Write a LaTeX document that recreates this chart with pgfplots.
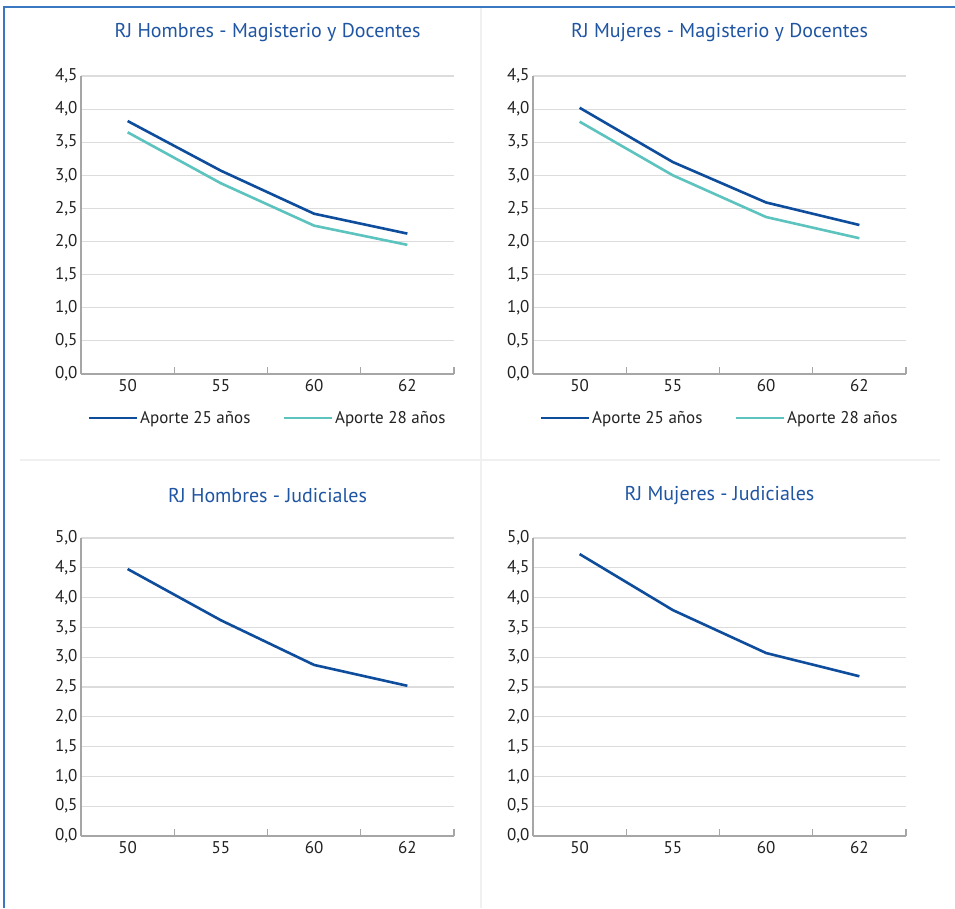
\documentclass[border=0pt]{standalone}
\usepackage{fontspec}
\setmainfont{PT Sans}
\usepackage{pgfplots}
\pgfplotsset{compat=1.18}
\definecolor{dblue}{HTML}{0E4C9C}
\definecolor{teal2}{HTML}{5CC3BE}
\definecolor{titleblue}{HTML}{1F55A3}
\definecolor{axgray}{HTML}{A6A6A6}
\definecolor{grd}{HTML}{DCDCDC}
\definecolor{framec}{HTML}{3A78C2}
\definecolor{sep}{HTML}{F0F0F0}
\definecolor{txt}{HTML}{222222}
\pgfplotsset{
 panel/.style={
  scale only axis, width=373pt, height=298pt,
  xmin=-0.5, xmax=3.5, ymin=0,
  axis lines*=left,
  axis line style={draw=axgray, line width=1.2pt},
  xtick={0,1,2,3}, xticklabels={50,55,60,62},
  xtick style={draw=none},
  extra x ticks={-0.5,0.5,1.5,2.5,3.5},
  extra x tick labels={},
  extra x tick style={xtick style={draw=axgray, line width=1.2pt}, tick align=inside, major tick length=7pt, grid=none},
  ytick style={draw=none},
  ymajorgrids, major grid style={draw=grd, line width=1.1pt},
  tick label style={font=\fontsize{17}{19}\selectfont, text=txt},
  /pgf/number format/.cd, use comma, fixed, fixed zerofill, precision=1, assume math mode=true,
  /pgfplots/.cd,
  yticklabel style={xshift=0pt},
  xticklabel style={yshift=-2pt},
  title style={font=\fontsize{20}{22}\selectfont, text=titleblue, at={(0.5,1)}, anchor=center},
  legend style={draw=none, at={(0.5,-0.148)}, anchor=center, legend columns=2,
    font=\fontsize{17}{19}\selectfont, text=txt,
    /tikz/every even column/.append style={column sep=30pt}},
  legend image code/.code={\draw[#1] (0pt,0pt) -- (48pt,0pt);},
 },
 l25/.style={color=dblue, line width=2.6pt, no markers},
 l28/.style={color=teal2, line width=2.6pt, no markers},
}
\begin{document}
\begin{tikzpicture}
\path[use as bounding box, fill=white] (0pt,0pt) rectangle (955pt,908pt);
% separators
\draw[sep, line width=2.5pt] (20pt,448pt) -- (940pt,448pt);
\draw[sep, line width=1.5pt] (481pt,0pt) -- (481pt,900pt);
% frame
\draw[framec, line width=1.6pt] (4pt,0pt) -- (4pt,901pt) -- (955pt,901pt);

\begin{axis}[panel, at={(81pt,534pt)}, anchor=south west, ymax=4.5,
  ytick={0,0.5,...,4.5}, title={RJ Hombres - Magisterio y Docentes},
  title style={yshift=37pt}]
\addplot[l25] coordinates {(0,3.82) (1,3.07) (2,2.42) (3,2.12)};
\addlegendentry{Aporte 25 años}
\addplot[l28] coordinates {(0,3.65) (1,2.88) (2,2.24) (3,1.95)};
\addlegendentry{Aporte 28 años}
\end{axis}

\begin{axis}[panel, at={(533pt,534pt)}, anchor=south west, ymax=4.5,
  ytick={0,0.5,...,4.5}, title={RJ Mujeres - Magisterio y Docentes},
  title style={yshift=37pt}]
\addplot[l25] coordinates {(0,4.02) (1,3.20) (2,2.59) (3,2.25)};
\addlegendentry{Aporte 25 años}
\addplot[l28] coordinates {(0,3.81) (1,3.00) (2,2.37) (3,2.05)};
\addlegendentry{Aporte 28 años}
\end{axis}

\begin{axis}[panel, at={(81pt,72pt)}, anchor=south west, ymax=5,
  ytick={0,0.5,...,5}, title={RJ Hombres - Judiciales},
  title style={yshift=36pt}]
\addplot[l25] coordinates {(0,4.48) (1,3.62) (2,2.87) (3,2.52)};
\end{axis}

\begin{axis}[panel, at={(533pt,72pt)}, anchor=south west, ymax=5,
  ytick={0,0.5,...,5}, title={RJ Mujeres - Judiciales},
  title style={yshift=36pt}]
\addplot[l25] coordinates {(0,4.73) (1,3.79) (2,3.07) (3,2.68)};
\end{axis}
\end{tikzpicture}
\end{document}
